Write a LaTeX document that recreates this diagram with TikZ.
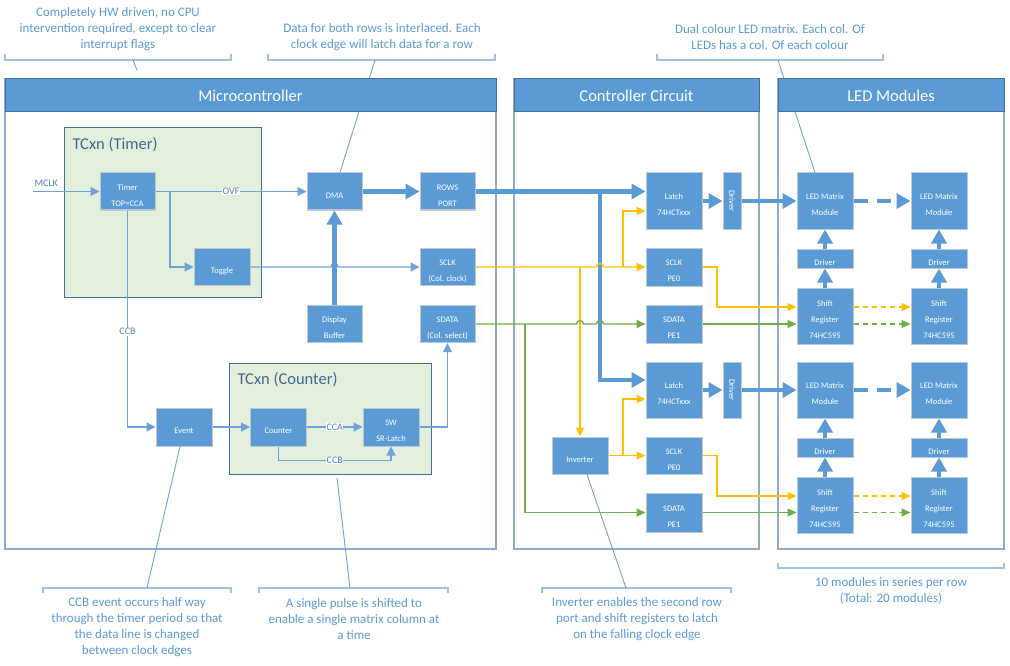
\documentclass[tikz,border=0pt]{standalone}
\usepackage{graphicx,fontspec}
\setmainfont{Carlito}
\usetikzlibrary{positioning}
\usetikzlibrary{arrows.meta, calc, positioning}

\definecolor{boxblue}{HTML}{5B9BD5}
\definecolor{hdrline}{HTML}{41719C}
\definecolor{panelline}{HTML}{8FAACB}
\definecolor{boxline}{HTML}{BCC8D6}
\definecolor{grpfill}{HTML}{E2EFDA}
\definecolor{wireblue}{HTML}{6FA2DA}
\definecolor{clkyellow}{HTML}{FFC000}
\definecolor{datagreen}{HTML}{70AD47}
\definecolor{notetext}{HTML}{5B9BD5}
\definecolor{notebrace}{HTML}{9DC3E6}
\definecolor{grptitle}{HTML}{44698F}
\definecolor{wiretext}{HTML}{4F7FC0}

\newcommand{\blocklines}[1]{\raisebox{-3.5pt}[\height][\depth]{\begin{tabular}{@{}c@{}}#1\end{tabular}}}

\tikzstyle{block} = [draw=boxline, fill=boxblue, text=white, line width=1pt, inner sep=0pt, align=center, font=\fontsize{8.5}{16}\selectfont]
\tikzstyle{small} = [minimum width=56pt, minimum height=37pt]
\tikzstyle{tall} = [minimum width=56pt, minimum height=56pt]
\tikzstyle{flat} = [minimum width=56pt, minimum height=19pt]
\tikzstyle{slim} = [minimum width=18pt, minimum height=56pt]
\tikzstyle{header} = [draw=hdrline, fill=boxblue, text=white, line width=1pt, inner sep=0pt, minimum height=33pt, font=\fontsize{16.5}{19}\selectfont]
\tikzstyle{grptext} = [anchor=west, text=grptitle, font=\fontsize{16.5}{19}\selectfont]
\tikzstyle{wire} = [wireblue, line width=1.2pt, -{Triangle[length=9pt,width=9pt]}]
\tikzstyle{bus} = [boxblue, line width=4.5pt, -{Triangle[length=14pt,width=15pt]}]
\tikzstyle{clk} = [clkyellow, line width=1.3pt, -{Triangle[length=9pt,width=8pt]}]
\tikzstyle{dat} = [datagreen, line width=1.3pt, -{Triangle[length=9pt,width=8pt]}]
\tikzstyle{note} = [text=notetext, align=center, font=\fontsize{13}{16}\selectfont]
\tikzstyle{brace} = [notebrace, line width=1.5pt]
\tikzstyle{callout} = [wireblue, line width=0.9pt]
\tikzstyle{lbl} = [fill=white, inner sep=0.5pt, text=wiretext, font=\fontsize{10}{12}\selectfont]

\begin{document}
\begin{tikzpicture}[x=1pt, y=-1pt]
    \useasboundingbox (0,0) rectangle (1010,666);

    \draw[panelline, line width=1.5pt] (5,79) rectangle (496,549);
    \draw[panelline, line width=1.5pt] (514,79) rectangle (759,549);
    \draw[panelline, line width=1.5pt] (778,79) rectangle (1004,549);

    % notes above the panels
    \node[note] (notehw) at (118,29) {Completely HW driven, no CPU\\intervention required, except to clear\\interrupt flags};
    \draw[brace] (5,54) |- (231,60) -- (231,54);
    \coordinate (hwbrace) at (133,60);
    \coordinate (hwtail) at (137,70);
    \draw[callout] (hwbrace) -- (hwtail);

    \node[note] (noterows) at (382,37) {Data for both rows is interlaced. Each\\clock edge will latch data for a row};
    \draw[brace] (268,54) |- (495,60) -- (495,54);
    \coordinate (rowsbrace) at (375,60);

    \node[note] (noteled) at (770,37) {Dual colour LED matrix. Each col. Of\\LEDs has a col. Of each colour};
    \draw[brace] (657,54) |- (883,60) -- (883,54);
    \coordinate (ledbrace) at (778,60);

    % microcontroller
    \draw[hdrline, fill=grpfill, line width=0.8pt] (64,127) rectangle (261,297);
    \node[grptext] (timertitle) at (69,145) {TCxn (Timer)};
    \draw[hdrline, fill=grpfill, line width=0.8pt] (229,363) rectangle (431,474);
    \node[grptext] (countertitle) at (234,380) {TCxn (Counter)};

    \node[block, small, minimum width=55pt] (timer) at (127.5,191.5) {\blocklines{Timer\\TOP=CCA}};
    \node[block, small] (toggle) at (222,267) {\blocklines{Toggle}};
    \node[block, small, minimum width=55pt] (dma) at (334.5,191.5) {\blocklines{DMA}};
    \node[block, small, minimum width=55pt] (rows) at (447.5,191.5) {\blocklines{ROWS\\PORT}};
    \node[block, small, minimum width=55pt] (sclk) at (447.5,267) {\blocklines{SCLK\\(Col. clock)}};
    \node[block, small, minimum width=55pt] (sdata) at (447.5,324) {\blocklines{SDATA\\(Col. select)}};
    \node[block, small, minimum width=55pt] (dbuf) at (334.5,324) {\blocklines{Display\\Buffer}};
    \node[block, small, minimum height=38pt] (event) at (184,427) {\blocklines{Event}};
    \node[block, small, minimum height=38pt] (counter) at (278.5,427) {\blocklines{Counter}};
    \node[block, small, minimum height=38pt] (srlatch) at (391,427) {\blocklines{SW\\SR-Latch}};

    % controller circuit
    \node[block, tall] (latchA) at (674,201) {\blocklines{Latch\\74HCTxxx}};
    \node[block, slim, right=20pt of latchA] (drvA) {\rotatebox{-90}{Driver}};
    \node[block, small, minimum height=38pt] (sclkA) at (674,267) {\blocklines{SCLK\\PE0}};
    \node[block, small, minimum height=38pt] (sdataA) at (674,324) {\blocklines{SDATA\\PE1}};
    \node[block, tall] (latchB) at (674,390) {\blocklines{Latch\\74HCTxxx}};
    \node[block, slim, right=20pt of latchB] (drvB) {\rotatebox{-90}{Driver}};
    \node[block, small] (inverter) at (580,455.5) {\blocklines{Inverter}};
    \node[block, small] (sclkB) at (674,455.5) {\blocklines{SCLK\\PE0}};
    \node[block, small, minimum height=39pt] (sdataB) at (674,512.5) {\blocklines{SDATA\\PE1}};

    % led modules
    \node[block, tall] (ledA1) at (825,201) {\blocklines{LED Matrix\\Module}};
    \node[block, tall, right=57pt of ledA1] (ledA2) {\blocklines{LED Matrix\\Module}};
    \node[block, flat, below=19pt of ledA1] (ldrvA1) {\blocklines{Driver}};
    \node[block, flat, below=19pt of ledA2] (ldrvA2) {\blocklines{Driver}};
    \node[block, tall, below=19pt of ldrvA1] (shiftA1) {\blocklines{Shift\\Register\\74HC595}};
    \node[block, tall, below=19pt of ldrvA2] (shiftA2) {\blocklines{Shift\\Register\\74HC595}};
    \node[block, tall] (ledB1) at (825,390) {\blocklines{LED Matrix\\Module}};
    \node[block, tall, right=57pt of ledB1] (ledB2) {\blocklines{LED Matrix\\Module}};
    \node[block, flat, below=19pt of ledB1] (ldrvB1) {\blocklines{Driver}};
    \node[block, flat, below=19pt of ledB2] (ldrvB2) {\blocklines{Driver}};
    \node[block, tall, below=19pt of ldrvB1] (shiftB1) {\blocklines{Shift\\Register\\74HC595}};
    \node[block, tall, below=19pt of ldrvB2] (shiftB2) {\blocklines{Shift\\Register\\74HC595}};

    \draw[callout] (rowsbrace) -- ([xshift=5.5pt]dma.north);
    \draw[callout] (ledbrace) -- ([xshift=-10pt]ledA1.north);

    \node[header, minimum width=491pt] (mcu) at (250.5,95.5) {Microcontroller};
    \node[header, minimum width=245pt] (ctrl) at (636.5,95.5) {Controller Circuit};
    \node[header, minimum width=226pt] (leds) at (891,95.5) {LED Modules};

    % timer and counter wiring
    \coordinate (mclk) at (33,191.5);
    \draw[wire] (mclk) -- node[pos=0.2, above=1pt, text=wiretext, font=\fontsize{10}{12}\selectfont] {MCLK} (timer.west);
    \draw[wire] (timer.east) -- node[lbl] {OVF} (dma.west);
    \coordinate (ovfsplit) at (170,191.5);
    \draw[wire] (ovfsplit) |- (toggle.west);
    \draw[wire] (toggle.east) -- ($(dbuf.north |- toggle.east)+(-3.5,0)$) arc[start angle=180, end angle=360, radius=3.5] -- (sclk.west);
    \draw[wire] (timer.south) |- node[lbl, pos=0.28] {CCB} (event.west);
    \draw[wire] (event.east) -- (counter.west);
    \draw[wire] (counter.east) -- node[lbl] {CCA} (srlatch.west);
    \draw[wire] (counter.south) -- ++(0,14) coordinate (ccbturn) -- node[lbl] {CCB} (srlatch.south |- ccbturn) -- (srlatch.south);
    \draw[wire] (srlatch.east) -| (sdata.south);

    % row data
    \draw[bus] (dbuf.north) -- (dma.south);
    \draw[bus] (dma.east) -- (rows.west);
    \draw[bus] (rows.east) -- (rows.east -| latchA.west);
    \coordinate (rowsplit) at (600,191.5);
    \draw[bus] (rowsplit) |- ([yshift=10pt]latchB.west);
    \draw[bus] (latchA.east) -- (drvA.west);
    \draw[bus] (latchB.east) -- (drvB.west);
    \draw[bus] (drvA.east) -- (ledA1.west);
    \draw[bus] (drvB.east) -- (ledB1.west);
    \draw[bus, dash pattern=on 14pt off 9pt] (ledA1.east) -- (ledA2.west);
    \draw[bus, dash pattern=on 14pt off 9pt] (ledB1.east) -- (ledB2.west);
    \draw[bus] (ldrvA1.north) -- (ledA1.south);
    \draw[bus] (ldrvA2.north) -- (ledA2.south);
    \draw[bus] (ldrvB1.north) -- (ledB1.south);
    \draw[bus] (ldrvB2.north) -- (ledB2.south);
    \draw[bus] (shiftA1.north) -- (ldrvA1.south);
    \draw[bus] (shiftA2.north) -- (ldrvA2.south);
    \draw[bus] (shiftB1.north) -- (ldrvB1.south);
    \draw[bus] (shiftB2.north) -- (ldrvB2.south);

    % column clock
    \draw[clk] (sclk.east) -- ($(rowsplit |- sclk.east)+(-3.5,0)$) arc[start angle=180, end angle=360, radius=3.5] -- (sclkA.west);
    \coordinate (clksplit) at (623,267);
    \draw[clk] (clksplit) |- ([yshift=-10pt]latchA.west);
    \draw[clk] (inverter.north |- sclk.east) -- (inverter.north);
    \draw[clk] (inverter.east) -- (sclkB.west);
    \coordinate (invsplit) at (623,455.5);
    \draw[clk] (invsplit) |- ([yshift=-9pt]latchB.west);
    \coordinate (sckturnA) at (717,267);
    \draw[clk] (sclkA.east) -- (sckturnA) |- ([yshift=9pt]shiftA1.west);
    \coordinate (sckturnB) at (717,455.5);
    \draw[clk] (sclkB.east) -- (sckturnB) |- ([yshift=9pt]shiftB1.west);
    \draw[clk, dash pattern=on 5pt off 4pt] ([yshift=9pt]shiftA1.east) -- ([yshift=9pt]shiftA2.west);
    \draw[clk, dash pattern=on 5pt off 4pt] ([yshift=9pt]shiftB1.east) -- ([yshift=9pt]shiftB2.west);

    % column data
    \draw[dat] (sdata.east) -- ($(inverter.north |- sdata.east)+(-3.5,0)$) arc[start angle=180, end angle=360, radius=3.5] -- ($(rowsplit |- sdata.east)+(-3.5,0)$) arc[start angle=180, end angle=360, radius=3.5] -- (sdataA.west);
    \coordinate (datsplit) at (525,324);
    \draw[dat] (datsplit) |- (sdataB.west);
    \draw[dat] (sdataA.east) -- (sdataA.east -| shiftA1.west);
    \draw[dat] (sdataB.east) -- (sdataB.east -| shiftB1.west);
    \draw[dat, dash pattern=on 5pt off 4pt] (sdataA.east -| shiftA1.east) -- (sdataA.east -| shiftA2.west);
    \draw[dat, dash pattern=on 5pt off 4pt] (sdataB.east -| shiftB1.east) -- (sdataB.east -| shiftB2.west);

    % notes below the panels
    \node[note] (noteccb) at (137,627) {CCB event occurs half way\\through the timer period so that\\the data line is changed\\between clock edges};
    \draw[brace] (43,593) |- (231,588) -- (231,593);
    \coordinate (ccbbrace) at (147,588);
    \draw[callout] ([xshift=-4pt]event.south) -- (ccbbrace);

    \node[note] (notepulse) at (354,619) {A single pulse is shifted to\\enable a single matrix column at\\a time};
    \draw[brace] (259,593) |- (448,588) -- (448,593);
    \coordinate (pulsebrace) at (350,588);
    \coordinate (pulsetail) at (337,478);
    \draw[callout] (pulsetail) -- (pulsebrace);

    \node[note] (noteinv) at (637,619) {Inverter enables the second row\\port and shift registers to latch\\on the falling clock edge};
    \draw[brace] (542,593) |- (731,588) -- (731,593);
    \coordinate (invbrace) at (626,588);
    \draw[callout] ([xshift=7pt]inverter.south) -- (invbrace);

    \node[note] (noteseries) at (891,591) {10 modules in series per row\\(Total: 20 modules)};
    \draw[brace] (778,563) |- (1004,568) -- (1004,563);
\end{tikzpicture}
\end{document}
